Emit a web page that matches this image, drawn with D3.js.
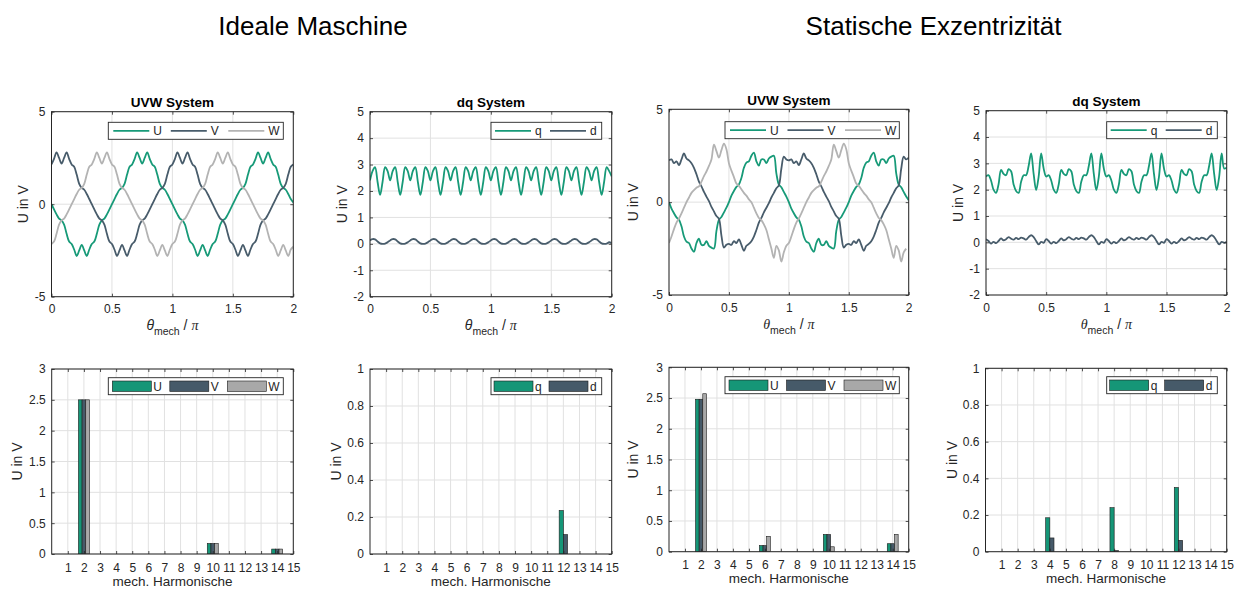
<!DOCTYPE html>
<html>
<head>
<meta charset="utf-8">
<script src="https://cdn.jsdelivr.net/npm/d3@7"></script>
<style>
  body { margin: 0; background: #fff; }
  svg { display: block; }
  text { font-family: "Liberation Sans", Arial, Helvetica, sans-serif; fill: #262626; }
</style>
</head>
<body>
<svg id="chart" width="1241" height="589"></svg>
<script>
// ---------- sample grid: 48 samples per unit of theta_mech / pi, range 0..2 ----------
const samplesPerUnit = 48;

// ---------- ideal machine, phase voltages (V) ----------
const idealU = [0,-0.28,-0.55,-0.78,-0.88,-1.1,-1.6,-2.02,-2.15,-2.45,-2.8,-2.5,-2.2,-2.5,-2.8,-2.45,-2.15,-2.02,-1.6,-1.1,-0.88,-0.78,-0.55,-0.28,0,0.28,0.55,0.78,0.88,1.1,1.6,2.02,2.15,2.45,2.8,2.5,2.2,2.5,2.8,2.45,2.15,2.02,1.6,1.1,0.88,0.78,0.55,0.28,0,
  -0.28,-0.55,-0.78,-0.88,-1.1,-1.6,-2.02,-2.15,-2.45,-2.8,-2.5,-2.2,-2.5,-2.8,-2.45,-2.15,-2.02,-1.6,-1.1,-0.88,-0.78,-0.55,-0.28,0,0.28,0.55,0.78,0.88,1.1,1.6,2.02,2.15,2.45,2.8,2.5,2.2,2.5,2.8,2.45,2.15,2.02,1.6,1.1,0.88,0.78,0.55,0.28,0.1];
const idealV = [2.15,2.45,2.8,2.5,2.2,2.5,2.8,2.45,2.15,2.02,1.6,1.1,0.88,0.78,0.55,0.28,0,-0.28,-0.55,-0.78,-0.88,-1.1,-1.6,-2.02,-2.15,-2.45,-2.8,-2.5,-2.2,-2.5,-2.8,-2.45,-2.15,-2.02,-1.6,-1.1,-0.88,-0.78,-0.55,-0.28,0,0.28,0.55,0.78,0.88,1.1,1.6,2.02,2.15,
  2.45,2.8,2.5,2.2,2.5,2.8,2.45,2.15,2.02,1.6,1.1,0.88,0.78,0.55,0.28,0,-0.28,-0.55,-0.78,-0.88,-1.1,-1.6,-2.02,-2.15,-2.45,-2.8,-2.5,-2.2,-2.5,-2.8,-2.45,-2.15,-2.02,-1.6,-1.1,-0.88,-0.78,-0.55,-0.28,0,0.28,0.55,0.78,0.88,1.1,1.6,2.02,2.15];
const idealW = [-2.15,-2.02,-1.6,-1.1,-0.88,-0.78,-0.55,-0.28,0,0.28,0.55,0.78,0.88,1.1,1.6,2.02,2.15,2.45,2.8,2.5,2.2,2.5,2.8,2.45,2.15,2.02,1.6,1.1,0.88,0.78,0.55,0.28,0,-0.28,-0.55,-0.78,-0.88,-1.1,-1.6,-2.02,-2.15,-2.45,-2.8,-2.5,-2.2,-2.5,-2.8,-2.45,-2.15,
  -2.02,-1.6,-1.1,-0.88,-0.78,-0.55,-0.28,0,0.28,0.55,0.78,0.88,1.1,1.6,2.02,2.15,2.45,2.8,2.5,2.2,2.5,2.8,2.45,2.15,2.02,1.6,1.1,0.88,0.78,0.55,0.28,0,-0.28,-0.55,-0.78,-0.88,-1.1,-1.6,-2.02,-2.15,-2.45,-2.8,-2.5,-2.2,-2.5,-2.8,-2.45,-2.3];

// ---------- ideal machine, dq voltages (V) ----------
const idealQ = [2.4,2.75,2.9,2.35,1.85,2.35,2.9,2.75,2.4,
  2.75,2.9,2.35,1.85,2.35,2.9,2.75,2.4, 2.75,2.9,2.35,1.85,2.35,2.9,2.75,2.4, 2.75,2.9,2.35,1.85,2.35,2.9,2.75,2.4,
  2.75,2.9,2.35,1.85,2.35,2.9,2.75,2.4, 2.75,2.9,2.35,1.85,2.35,2.9,2.75,2.4, 2.75,2.9,2.35,1.85,2.35,2.9,2.75,2.4,
  2.75,2.9,2.35,1.85,2.35,2.9,2.75,2.4, 2.75,2.9,2.35,1.85,2.35,2.9,2.75,2.4, 2.75,2.9,2.35,1.85,2.35,2.9,2.75,2.4,
  2.75,2.9,2.35,1.85,2.35,2.9,2.75,2.4, 2.75,2.9,2.35,1.85,2.35,2.9,2.75,2.55];
const idealD = [0.13,0.18,0.17,0.09,0.02,0,0.01,0.06,0.13,
  0.18,0.17,0.09,0.02,0,0.01,0.06,0.13, 0.18,0.17,0.09,0.02,0,0.01,0.06,0.13, 0.18,0.17,0.09,0.02,0,0.01,0.06,0.13,
  0.18,0.17,0.09,0.02,0,0.01,0.06,0.13, 0.18,0.17,0.09,0.02,0,0.01,0.06,0.13, 0.18,0.17,0.09,0.02,0,0.01,0.06,0.13,
  0.18,0.17,0.09,0.02,0,0.01,0.06,0.13, 0.18,0.17,0.09,0.02,0,0.01,0.06,0.13, 0.18,0.17,0.09,0.02,0,0.01,0.06,0.13,
  0.18,0.17,0.09,0.02,0,0.01,0.06,0.13, 0.18,0.17,0.09,0.02,0,0.01,0.06,0.02];

// ---------- static eccentricity, phase voltages (V) ----------
const eccU = [0,-0.35,-0.6,-0.82,-0.95,-1.3,-1.85,-2.13,-2.2,-2.5,-2.67,-2.2,-1.97,-2.3,-2.3,-2.1,-2.35,-2.45,-2.5,-1.55,-0.95,-0.8,-0.55,-0.3,0,0.35,0.6,0.82,0.95,1.3,1.85,2.13,2.2,2.5,2.67,2.2,1.97,2.3,2.3,2.1,2.35,2.45,2.5,1.55,0.95,0.8,0.55,0.3,0,
  -0.35,-0.6,-0.82,-0.95,-1.3,-1.85,-2.13,-2.2,-2.5,-2.67,-2.2,-1.97,-2.3,-2.3,-2.1,-2.35,-2.45,-2.5,-1.55,-0.95,-0.8,-0.55,-0.3,0,0.35,0.6,0.82,0.95,1.3,1.85,2.13,2.2,2.5,2.67,2.2,1.97,2.3,2.3,2.1,2.35,2.45,2.5,1.55,0.95,0.8,0.55,0.3,0.1];
const eccV = [2.25,2.3,2.1,2.2,2.0,2.3,2.62,2.35,2.25,2.1,1.85,1.5,1.1,0.85,0.55,0.3,0.05,-0.25,-0.5,-0.75,-0.9,-1.8,-2.45,-2.3,-2.25,-2.3,-2.1,-2.2,-2.0,-2.3,-2.62,-2.35,-2.25,-2.1,-1.85,-1.5,-1.1,-0.85,-0.55,-0.3,-0.05,0.25,0.5,0.75,0.9,1.8,2.45,2.3,2.25,
  2.3,2.1,2.2,2.0,2.3,2.62,2.35,2.25,2.1,1.85,1.5,1.1,0.85,0.55,0.3,0.05,-0.25,-0.5,-0.75,-0.9,-1.8,-2.45,-2.3,-2.25,-2.3,-2.1,-2.2,-2.0,-2.3,-2.62,-2.35,-2.25,-2.1,-1.85,-1.5,-1.1,-0.85,-0.55,-0.3,-0.05,0.25,0.5,0.75,0.9,1.8,2.45,2.3,2.4];
const eccW = [-2.2,-1.85,-1.45,-1.1,-0.88,-0.6,-0.3,0,0.25,0.5,0.65,0.78,0.85,1.1,1.4,1.65,1.95,2.3,3.1,2.75,2.4,2.8,3.15,2.85,2.1,1.7,1.35,1.0,0.88,0.7,0.5,0.35,0.15,0,-0.3,-0.6,-0.85,-0.97,-1.2,-1.5,-2.0,-2.5,-3.0,-2.35,-2.6,-3.2,-2.7,-2.35,-2.2,
  -1.85,-1.45,-1.1,-0.88,-0.6,-0.3,0,0.25,0.5,0.65,0.78,0.85,1.1,1.4,1.65,1.95,2.3,3.1,2.75,2.4,2.8,3.15,2.85,2.1,1.7,1.35,1.0,0.88,0.7,0.5,0.35,0.15,0,-0.3,-0.6,-0.85,-0.97,-1.2,-1.5,-2.0,-2.5,-3.0,-2.35,-2.6,-3.2,-2.7,-2.5];

// ---------- static eccentricity, dq voltages (V) ----------
const eccQ = [2.5,2.55,2.35,2.0,1.88,2.2,2.75,2.6,2.55,2.78,2.7,2.2,1.95,1.88,2.3,2.55,2.55,2.9,3.38,2.6,1.98,2.5,3.38,2.8,2.5,
  2.55,2.35,2.0,1.88,2.2,2.75,2.6,2.55,2.78,2.7,2.2,1.95,1.88,2.3,2.55,2.55,2.9,3.38,2.6,1.98,2.5,3.38,2.8,2.5,
  2.55,2.35,2.0,1.88,2.2,2.75,2.6,2.55,2.78,2.7,2.2,1.95,1.88,2.3,2.55,2.55,2.9,3.38,2.6,1.98,2.5,3.38,2.8,2.5,
  2.55,2.35,2.0,1.88,2.2,2.75,2.6,2.55,2.78,2.7,2.2,1.95,1.88,2.3,2.55,2.55,2.9,3.38,2.6,1.98,2.5,3.38,2.8,2.85];
const eccD = [0.12,0.05,-0.05,0.02,-0.03,0.05,0.15,0.08,0.12,0.2,0.14,0.1,0.17,0.12,0.18,0.15,0.1,0.2,0.27,0.2,0.05,-0.08,0.02,-0.02,0.12,
  0.05,-0.05,0.02,-0.03,0.05,0.15,0.08,0.12,0.2,0.14,0.1,0.17,0.12,0.18,0.15,0.1,0.2,0.27,0.2,0.05,-0.08,0.02,-0.02,0.12,
  0.05,-0.05,0.02,-0.03,0.05,0.15,0.08,0.12,0.2,0.14,0.1,0.17,0.12,0.18,0.15,0.1,0.2,0.27,0.2,0.05,-0.08,0.02,-0.02,0.12,
  0.05,-0.05,0.02,-0.03,0.05,0.15,0.08,0.12,0.2,0.14,0.1,0.17,0.12,0.18,0.15,0.1,0.2,0.27,0.2,0.05,-0.08,0.02,-0.02,0.02];

// ---------- harmonic spectra (amplitude in V for mech. harmonics 1..15) ----------
const harmonicOrders = [1,2,3,4,5,6,7,8,9,10,11,12,13,14,15];
const idealUSpec = [0,2.5,0,0,0,0,0,0,0,0.17,0,0,0,0.08,0];
const idealVSpec = [0,2.5,0,0,0,0,0,0,0,0.17,0,0,0,0.08,0];
const idealWSpec = [0,2.5,0,0,0,0,0,0,0,0.17,0,0,0,0.08,0];
const idealQSpec = [0,0,0,0,0,0,0,0,0,0,0,0.235,0,0,0];
const idealDSpec = [0,0,0,0,0,0,0,0,0,0,0,0.105,0,0,0];
const eccUSpec = [0,2.48,0,0,0,0.1,0,0,0,0.28,0,0,0,0.13,0];
const eccVSpec = [0,2.48,0,0,0,0.1,0,0,0,0.28,0,0,0,0.13,0];
const eccWSpec = [0,2.57,0,0,0,0.25,0,0,0,0.08,0,0,0,0.28,0];
const eccQSpec = [0,0,0,0.185,0,0,0,0.24,0,0,0,0.35,0,0,0];
const eccDSpec = [0,0,0,0.075,0,0,0,0.006,0,0,0,0.062,0,0,0];

// ---------- axis ticks ----------
const thetaTicks = [0, 0.5, 1, 1.5, 2];
const uvwTimeTicks = [-5, 0, 5];
const dqTimeTicks = [-2, -1, 0, 1, 2, 3, 4, 5];
const uvwSpecTicks = [0, 0.5, 1, 1.5, 2, 2.5, 3];
const dqSpecTicks = [0, 0.2, 0.4, 0.6, 0.8, 1];

// ---------- series names & colours ----------
const uvwNames = ["U", "V", "W"];
const dqNames = ["q", "d"];
const lineColors = { U: "#179a78", V: "#485c6b", W: "#b3b3b3", q: "#179a78", d: "#485c6b" };
const barColors = { U: "#159677", V: "#465a69", W: "#a8a8a8", q: "#159677", d: "#465a69" };

const headings = ["Ideale Maschine", "Statische Exzentrizität"];

// ---------- panel layout ----------
const panels = [
  { box: [51.5, 293.3, 111.7, 296.7], kind: "time", title: "UVW System", yDomain: [-5, 5], yTicks: uvwTimeTicks,
    names: uvwNames, data: [idealU, idealV, idealW], ylabX: 23.3, legend: [108.3, 122.3, 175], serifTheta: false },
  { box: [370, 611.7, 111.7, 296.7], kind: "time", title: "dq System", yDomain: [-2, 5], yTicks: dqTimeTicks,
    names: dqNames, data: [idealQ, idealD], ylabX: 341.7, legend: [491, 122.3, 110.7], serifTheta: false },
  { box: [669, 908.7, 109.3, 295], kind: "time", title: "UVW System", yDomain: [-5, 5], yTicks: uvwTimeTicks,
    names: uvwNames, data: [eccU, eccV, eccW], ylabX: 633.3, legend: [725, 121.7, 174.3], serifTheta: true },
  { box: [986, 1226.7, 110.7, 295], kind: "time", title: "dq System", yDomain: [-2, 5], yTicks: dqTimeTicks,
    names: dqNames, data: [eccQ, eccD], ylabX: 958, legend: [1106.7, 121.7, 110.6], serifTheta: true },
  { box: [51.7, 293.3, 369, 554], kind: "spec", yDomain: [0, 3], yTicks: uvwSpecTicks,
    names: uvwNames, data: [idealUSpec, idealVSpec, idealWSpec], ylabX: 16.7, legend: [108.3, 377.7, 175] },
  { box: [370, 611.7, 369, 554], kind: "spec", yDomain: [0, 1], yTicks: dqSpecTicks,
    names: dqNames, data: [idealQSpec, idealDSpec], ylabX: 336, legend: [491, 377.7, 110.7] },
  { box: [669, 908.7, 367.3, 551.7], kind: "spec", yDomain: [0, 3], yTicks: uvwSpecTicks,
    names: uvwNames, data: [eccUSpec, eccVSpec, eccWSpec], ylabX: 633.5, legend: [725, 376.7, 174.3] },
  { box: [985.5, 1226.7, 368.3, 551.7], kind: "spec", yDomain: [0, 1], yTicks: dqSpecTicks,
    names: dqNames, data: [eccQSpec, eccDSpec], ylabX: 952, legend: [1106.7, 376.7, 110.6] }
];

const svg = d3.select("#chart");
const axisColor = "#262626";
const gridColor = "#e1e1e1";

// column headings
svg.append("text").attr("x", 313).attr("y", 35).attr("text-anchor", "middle")
  .attr("font-size", 26).style("fill", "#000").text(headings[0]);
svg.append("text").attr("x", 933.5).attr("y", 35).attr("text-anchor", "middle")
  .attr("font-size", 26).style("fill", "#000").text(headings[1]);

panels.forEach((p, pi) => {
  const [l, r, t, b] = p.box;
  const g = svg.append("g");
  const isTime = p.kind === "time";

  const x = d3.scaleLinear().domain(isTime ? [0, 2] : [0, 15]).range([l, r]);
  const y = d3.scaleLinear().domain(p.yDomain).range([b, t]);
  const xTicks = isTime ? thetaTicks : harmonicOrders;

  // clip region
  const clipId = "clip" + pi;
  svg.append("clipPath").attr("id", clipId)
    .append("rect").attr("x", l).attr("y", t).attr("width", r - l).attr("height", b - t);

  // grid
  const grid = g.append("g").attr("stroke", gridColor).attr("stroke-width", 1);
  xTicks.forEach(v => {
    grid.append("line").attr("x1", x(v)).attr("x2", x(v)).attr("y1", t).attr("y2", b);
  });
  p.yTicks.forEach(v => {
    grid.append("line").attr("x1", l).attr("x2", r).attr("y1", y(v)).attr("y2", y(v));
  });

  const plot = g.append("g").attr("clip-path", `url(#${clipId})`);

  if (isTime) {
    const line = d3.line()
      .x((d, i) => x(i / samplesPerUnit))
      .y(d => y(d))
      .curve(d3.curveCatmullRom.alpha(0.5));
    p.data.forEach((series, si) => {
      plot.append("path").datum(series)
        .attr("fill", "none")
        .attr("stroke", lineColors[p.names[si]])
        .attr("stroke-width", 1.8)
        .attr("stroke-linejoin", "round")
        .attr("d", line);
    });
  } else {
    const n = p.data.length;
    const bw = n === 3 ? 0.227 : 0.26;
    p.data.forEach((series, si) => {
      const offset = (si - (n - 1) / 2) * bw;
      series.forEach((v, hi) => {
        if (v <= 0) return;
        const h = harmonicOrders[hi];
        plot.append("rect")
          .attr("x", x(h + offset - bw / 2))
          .attr("width", x(bw) - x(0))
          .attr("y", y(v))
          .attr("height", y(0) - y(v))
          .attr("fill", barColors[p.names[si]])
          .attr("stroke", "#1c1c1c")
          .attr("stroke-width", 0.6);
      });
    });
  }

  // axes with inward ticks on all four sides
  const fmt = d => String(d);
  const axB = g.append("g").attr("transform", `translate(0,${b})`)
    .call(d3.axisBottom(x).tickValues(xTicks).tickFormat(fmt).tickSizeInner(-3).tickSizeOuter(0).tickPadding(isTime ? 8 : 9));
  const axL = g.append("g").attr("transform", `translate(${l},0)`)
    .call(d3.axisLeft(y).tickValues(p.yTicks).tickFormat(fmt).tickSizeInner(-3).tickSizeOuter(0).tickPadding(6));
  const axT = g.append("g").attr("transform", `translate(0,${t})`)
    .call(d3.axisTop(x).tickValues(xTicks).tickFormat("").tickSizeInner(-3).tickSizeOuter(0));
  const axR = g.append("g").attr("transform", `translate(${r},0)`)
    .call(d3.axisRight(y).tickValues(p.yTicks).tickFormat("").tickSizeInner(-3).tickSizeOuter(0));
  [axB, axL, axT, axR].forEach(a => {
    a.select(".domain").remove();
    a.selectAll("line").attr("stroke", axisColor).attr("stroke-width", 0.8);
    a.selectAll("text").attr("font-size", 12).style("fill", axisColor).attr("font-family", null);
  });

  // axes box
  g.append("rect").attr("x", l).attr("y", t).attr("width", r - l).attr("height", b - t)
    .attr("fill", "none").attr("stroke", axisColor).attr("stroke-width", 1);

  // panel title
  if (p.title) {
    g.append("text").attr("x", (l + r) / 2).attr("y", t - 4.5).attr("text-anchor", "middle")
      .attr("font-size", 13.5).attr("font-weight", "bold").style("fill", "#000").text(p.title);
  }

  // y label
  g.append("text")
    .attr("transform", `translate(${p.ylabX},${(t + b) / 2}) rotate(-90)`)
    .attr("text-anchor", "middle").attr("dy", "0.35em")
    .attr("font-size", 14).style("fill", axisColor).text("U in V");

  // x label
  if (isTime) {
    const xl = g.append("text").attr("x", (l + r) / 2).attr("y", b + 33.5)
      .attr("text-anchor", "middle").attr("font-size", 14).style("fill", axisColor);
    xl.append("tspan").attr("font-style", "italic")
      .attr("font-family", p.serifTheta ? "'Liberation Serif', 'Times New Roman', serif" : null)
      .text("θ");
    xl.append("tspan").attr("font-size", 10.5).attr("dy", 5).text("mech");
    xl.append("tspan").attr("dy", -5).text(" / ");
    xl.append("tspan").attr("font-style", "italic")
      .attr("font-family", "'Liberation Serif', 'Times New Roman', serif").text("π");
  } else {
    g.append("text").attr("x", (l + r) / 2).attr("y", b + 31.5)
      .attr("text-anchor", "middle").attr("font-size", 13.5).style("fill", axisColor)
      .text("mech. Harmonische");
  }

  // legend
  const [lx, ly, lw] = p.legend;
  const lh = 17;
  const lg = g.append("g");
  lg.append("rect").attr("x", lx).attr("y", ly).attr("width", lw).attr("height", lh)
    .attr("fill", "#fff").attr("stroke", axisColor).attr("stroke-width", 0.9);
  const pitch = p.names.length === 3 ? 57.5 : 55;
  p.names.forEach((name, i) => {
    const sx = lx + (p.names.length === 3 ? 5 : 4) + i * pitch;
    const cy = ly + lh / 2;
    if (isTime) {
      lg.append("line").attr("x1", sx).attr("x2", sx + 36).attr("y1", cy).attr("y2", cy)
        .attr("stroke", lineColors[name]).attr("stroke-width", 1.8);
    } else {
      lg.append("rect").attr("x", sx - 1).attr("y", ly + 3.3).attr("width", 39).attr("height", 10.5)
        .attr("fill", barColors[name]).attr("stroke", "#1c1c1c").attr("stroke-width", 0.6);
    }
    lg.append("text").attr("x", sx + 40).attr("y", cy).attr("dy", "0.36em")
      .attr("font-size", 12).style("fill", axisColor).text(name);
  });
});
</script>
</body>
</html>
